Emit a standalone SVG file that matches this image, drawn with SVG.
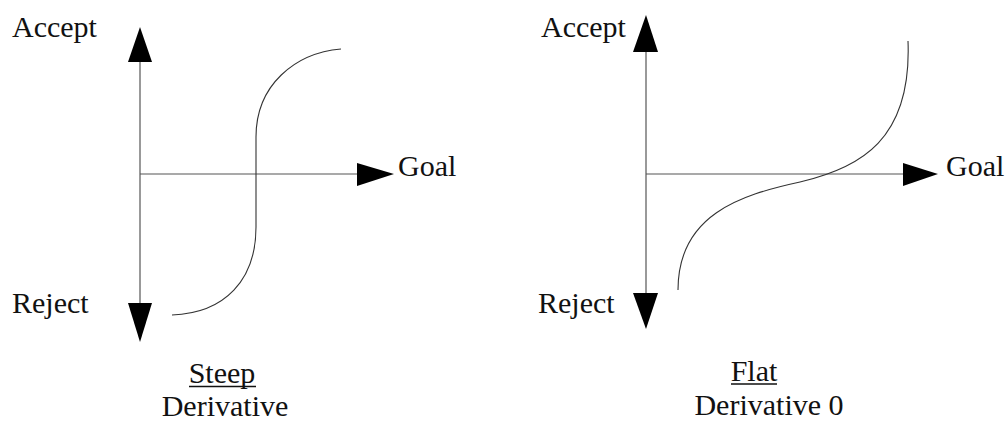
<svg xmlns="http://www.w3.org/2000/svg" width="1005" height="422" viewBox="0 0 1005 422">
<style>
.axis{stroke:#555;stroke-width:1.2;fill:none}
.curve{stroke:#333;stroke-width:1.1;fill:none}
.head{fill:#000}
text{font-family:"Liberation Serif","Times New Roman",serif;font-size:30px;fill:#111}
.ul{stroke:#111;stroke-width:1.4}
</style>
<rect width="1005" height="422" fill="#fff"/>
<g id="connectors">
<line class="axis" x1="140" y1="60" x2="140" y2="305"/>
<line class="axis" x1="140" y1="174" x2="360" y2="174"/>
<polygon class="head" points="140,27 128,62 152,62"/>
<polygon class="head" points="140,342 128,303 152,303"/>
<polygon class="head" points="394,174 357,163 357,186"/>
<line class="axis" x1="646" y1="50" x2="646" y2="295"/>
<line class="axis" x1="646" y1="174" x2="905" y2="174"/>
<polygon class="head" points="646,15 633,52 658,52"/>
<polygon class="head" points="646,329 633,293 658,293"/>
<polygon class="head" points="938,174 903,163 903,186"/>
</g>
<g id="steep-chart">
<path class="curve" d="M172,315 C225,313 256,280 256,227 L256,137 C256,85 295,53 341,49"/>
<text x="12" y="37">Accept</text>
<text x="12" y="313">Reject</text>
<text x="398" y="176">Goal</text>
<text x="222" y="383" text-anchor="middle">Steep</text>
<line class="ul" x1="189" y1="386.5" x2="256" y2="386.5"/>
<text x="225" y="416" text-anchor="middle">Derivative</text>
</g>
<g id="flat-chart">
<path class="curve" d="M678,290 C678,215 740,195 800,182 C860,168 912,140 908,41"/>
<text x="541" y="37">Accept</text>
<text x="538" y="313">Reject</text>
<text x="946" y="176">Goal</text>
<text x="754" y="381" text-anchor="middle">Flat</text>
<line class="ul" x1="731" y1="384" x2="777" y2="384"/>
<text x="769" y="415" text-anchor="middle">Derivative 0</text>
</g>
</svg>
